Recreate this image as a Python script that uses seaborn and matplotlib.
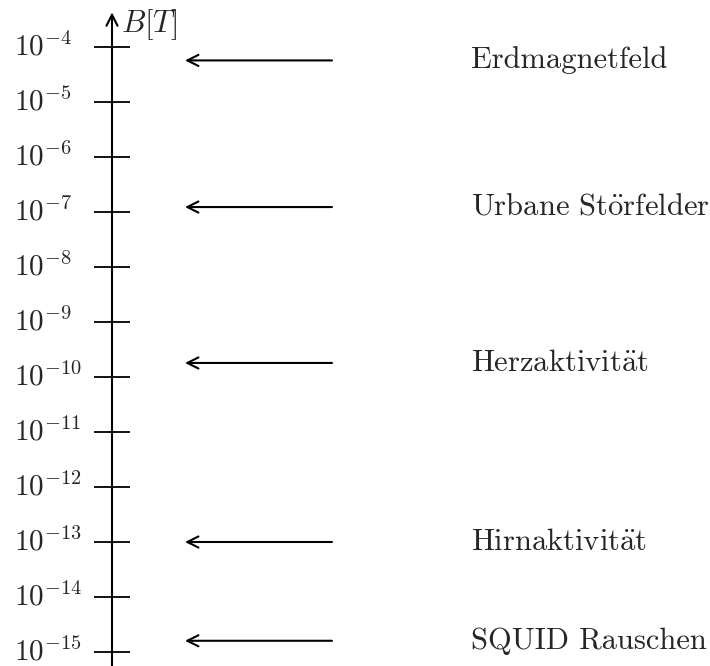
import numpy as np
import pandas as pd
import seaborn as sns
import matplotlib
matplotlib.use("Agg")
import matplotlib.pyplot as plt

# scale: decades of B in tesla
exponents = list(range(-4, -16, -1))
tick_labels = [r"$10^{%d}$" % e for e in exponents]

sources = ["Erdmagnetfeld", r"Urbane St$\ddot{\mathrm{o}}$rfelder",
           r"Herzaktivit$\ddot{\mathrm{a}}$t", r"Hirnaktivit$\ddot{\mathrm{a}}$t",
           "SQUID Rauschen"]
field_values = [5.7e-5, 1.23e-7, 1.8e-10, 1.0e-13, 1.6e-15]

sns.set_style("white")
plt.rcParams["font.family"] = ["cmr10", "DejaVu Serif"]
plt.rcParams["mathtext.fontset"] = "cm"
plt.rcParams["axes.formatter.use_mathtext"] = True

fig = plt.figure(figsize=(7.1, 6.66), dpi=100)
ax = fig.add_axes([0, 0, 1, 1])
ax.set_yscale("log")
ax.set_xlim(0, 710)
ax.set_ylim(10 ** -15.2545, 10 ** -3.1455)
ax.axis("off")

axis_x = 112

# vertical axis with arrow
ax.annotate("", xy=(axis_x, 10 ** -3.37), xytext=(axis_x, 10 ** -15.4),
            arrowprops=dict(arrowstyle="->", lw=1.5, color="black",
                            mutation_scale=20, shrinkA=0, shrinkB=0))
ax.text(axis_x + 9, 10 ** -3.6, r"$B[T]$", fontsize=22, va="center", ha="left")

# tick marks
ticks = pd.DataFrame({"x": [axis_x] * len(exponents),
                      "B": [10.0 ** e for e in exponents]})
sns.scatterplot(data=ticks, x="x", y="B", marker="_", s=26 ** 2,
                linewidth=1.3, color="black", ax=ax, legend=False)
for e, lab in zip(exponents, tick_labels):
    ax.text(14, 10.0 ** e, lab, fontsize=21, va="center", ha="left")

# arrows + labels
for name, val in zip(sources, field_values):
    ax.annotate("", xy=(185, val), xytext=(332, val),
                arrowprops=dict(arrowstyle="->", lw=1.5, color="black",
                                mutation_scale=20, shrinkA=0, shrinkB=0))
    ax.text(471, val, name, fontsize=22, va="center", ha="left")

fig.savefig("out.png", dpi=100)
